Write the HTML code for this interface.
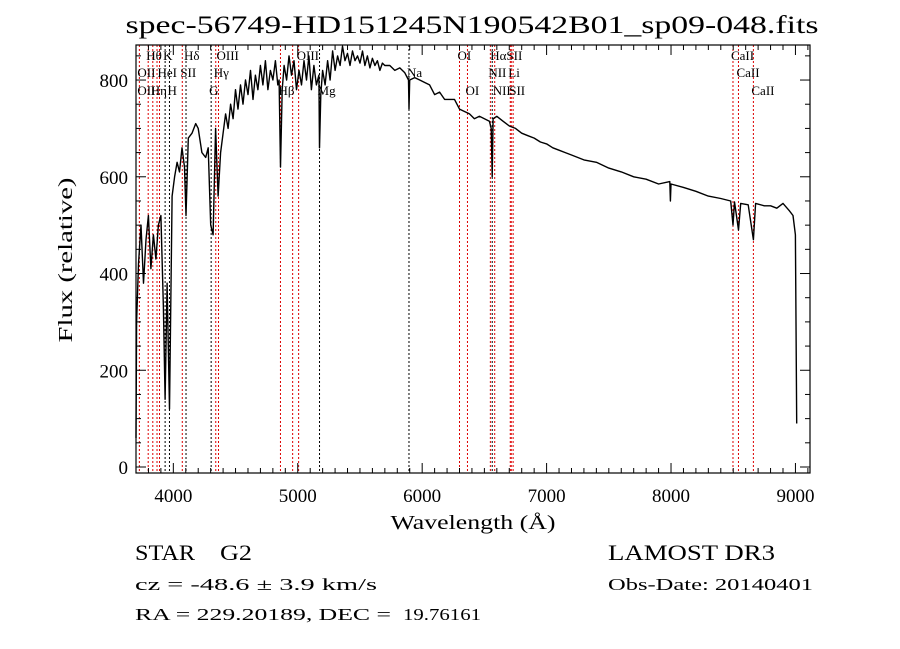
<!DOCTYPE html>
<html><head><meta charset="utf-8"><style>
body{margin:0;background:#fff;}
svg{display:block;font-family:"Liberation Serif",serif;}
</style></head><body>
<svg id="chart" width="900" height="649" viewBox="0 0 900 649">
<rect x="0" y="0" width="900" height="649" fill="#fff"/>
<text x="472" y="33" text-anchor="middle" font-size="25" textLength="693" lengthAdjust="spacingAndGlyphs">spec-56749-HD151245N190542B01_sp09-048.fits</text>
<g id="lines"></g>
<g id="spec"></g>
<g id="labels"></g>
<rect x="136" y="45" width="674" height="428" fill="none" stroke="#000" stroke-width="1.2"/>
<g id="axes"></g>
<text x="473" y="529" text-anchor="middle" font-size="20" textLength="165" lengthAdjust="spacingAndGlyphs">Wavelength (Å)</text>
<text transform="translate(72,260) rotate(-90)" text-anchor="middle" font-size="20" textLength="165" lengthAdjust="spacingAndGlyphs">Flux (relative)</text>
<text x="135" y="560" font-size="22" textLength="60" lengthAdjust="spacingAndGlyphs">STAR</text>
<text x="220" y="560" font-size="22" textLength="32" lengthAdjust="spacingAndGlyphs">G2</text>
<text x="608" y="560" font-size="22" textLength="167" lengthAdjust="spacingAndGlyphs">LAMOST DR3</text>
<text x="135" y="590" font-size="17" textLength="242" lengthAdjust="spacingAndGlyphs">cz = -48.6 ± 3.9 km/s</text>
<text x="608" y="590" font-size="17" textLength="205" lengthAdjust="spacingAndGlyphs">Obs-Date: 20140401</text>
<text x="135" y="620" font-size="17" textLength="256" lengthAdjust="spacingAndGlyphs">RA = 229.20189, DEC =</text>
<text x="403" y="620" font-size="17" textLength="78" lengthAdjust="spacingAndGlyphs">19.76161</text>
</svg>
<script>
const waves=[3700,3705,3720,3740,3760,3780,3800,3820,3840,3860,3880,3900,3920,3934,3950,3969,3990,4010,4030,4050,4070,4090,4102,4120,4150,4180,4200,4230,4260,4280,4300,4320,4340,4360,4380,4400,4420,4440,4460,4480,4500,4520,4540,4560,4580,4600,4620,4640,4660,4680,4700,4720,4740,4760,4780,4800,4820,4840,4850,4861,4875,4890,4910,4930,4950,4970,4990,5010,5030,5050,5070,5090,5110,5130,5150,5170,5175,5185,5200,5220,5240,5260,5280,5300,5320,5340,5360,5380,5400,5420,5440,5460,5480,5500,5520,5540,5560,5580,5600,5620,5640,5660,5680,5700,5740,5780,5820,5860,5890,5894,5900,5940,5980,6020,6060,6100,6140,6180,6220,6260,6300,6340,6380,6420,6460,6500,6540,6555,6563,6570,6600,6650,6700,6750,6800,6850,6900,6950,7000,7050,7100,7150,7200,7300,7400,7500,7600,7700,7800,7900,7990,7995,8000,8100,8200,8300,8400,8480,8498,8510,8542,8560,8620,8662,8680,8750,8800,8850,8900,8950,8980,9000,9010];
const flux=[60,300,420,500,380,470,520,410,480,430,500,520,330,140,380,120,560,600,630,610,660,620,520,680,690,710,700,650,640,660,500,480,700,560,650,690,730,700,750,720,780,740,790,750,800,770,820,760,810,780,830,790,840,780,820,800,840,790,800,620,780,830,800,850,810,840,780,820,790,840,800,850,780,830,790,810,660,770,820,790,840,800,860,820,850,830,870,840,855,830,860,840,850,835,860,830,850,825,845,830,840,820,835,830,830,820,825,815,800,740,800,805,800,795,790,770,775,760,760,760,740,735,730,720,725,720,715,700,600,720,725,715,705,700,690,685,680,672,668,660,655,650,645,635,630,618,610,600,595,585,590,550,585,578,570,560,555,550,500,548,490,545,542,470,545,540,540,535,545,530,520,480,90];
const lineWaves=[3727,3798,3835,3869,3889,3934,3969,4072,4102,4304,4341,4363,4861,4959,5007,5175,5894,6300,6364,6548,6563,6583,6708,6716,6731,8498,8542,8662];
const lineBlack=[0,0,0,0,0,1,1,0,1,1,0,0,0,0,0,1,1,0,0,0,1,0,0,0,0,0,0,0];
const labelText=["Hθ","K","Hδ","OIII","OIII","OI","HαSII","CaII","OII","HeI","SII","Hγ","Na","NII","Li","CaII","OII","Hη","H","G","Hβ","Mg","OI","NII","SII","CaII"];
const labelWave=[3798,3934,4102,4363,5007,6300,6563,8498,3727,3889,4072,4341,5894,6548,6708,8542,3727,3835,3969,4304,4861,5175,6364,6583,6716,8662];
const labelRow=[0,0,0,0,0,0,0,0,1,1,1,1,1,1,1,1,2,2,2,2,2,2,2,2,2,2];
const xTicks=[4000,5000,6000,7000,8000,9000];
const yTicks=[0,200,400,600,800];

const X0=136,X1=810,W0=3700,W1=9117,Y0=467,YS=0.4837;
const sx=w=>X0+(w-W0)/(W1-W0)*(X1-X0);
const sy=f=>Math.max(45,Y0-f*YS);
const NS='http://www.w3.org/2000/svg';
function mk(t,a,p){const e=document.createElementNS(NS,t);for(const k in a)e.setAttribute(k,a[k]);p.appendChild(e);return e;}
const gl=document.getElementById('lines'),gs=document.getElementById('spec'),gla=document.getElementById('labels'),ga=document.getElementById('axes');
lineWaves.forEach((w,i)=>{const e=mk('line',{x1:sx(w),x2:sx(w),y1:45,y2:473,stroke:lineBlack[i]?'#000':'#d00','stroke-width':1,'stroke-dasharray':'2,2'},gl);

});
let d='';waves.forEach((w,i)=>{d+=(i?'L':'M')+sx(w).toFixed(1)+','+sy(flux[i]).toFixed(1);});
const p=mk('path',{d:d,fill:'none',stroke:'#000','stroke-width':1.4,'stroke-linejoin':'round'},gs);


const rowY=[60,77,95];
labelText.forEach((t,i)=>{const e=mk('text',{x:sx(labelWave[i])-2,y:rowY[labelRow[i]],'font-size':13},gla);e.textContent=t;

});
for(let w=3800;w<=9100;w+=100){const big=w%1000===0;const x=sx(w);
mk('line',{x1:x,x2:x,y1:473,y2:473-(big?10:5),stroke:'#000'},ga);mk('line',{x1:x,x2:x,y1:45,y2:45+(big?10:5),stroke:'#000'},ga);}
xTicks.forEach(w=>{const e=mk('text',{x:sx(w),y:502,'text-anchor':'middle','font-size':19},ga);e.textContent=w;

});
for(let f=0;f<=850;f+=50){const big=f%200===0;const y=Y0-f*YS;
mk('line',{x1:136,x2:136+(big?10:5),y1:y,y2:y,stroke:'#000'},ga);mk('line',{x1:810,x2:810-(big?10:5),y1:y,y2:y,stroke:'#000'},ga);}
yTicks.forEach(f=>{const e=mk('text',{x:128,y:Y0-f*YS+7,'text-anchor':'end','font-size':19},ga);e.textContent=f;

});
</script>
</body></html>
